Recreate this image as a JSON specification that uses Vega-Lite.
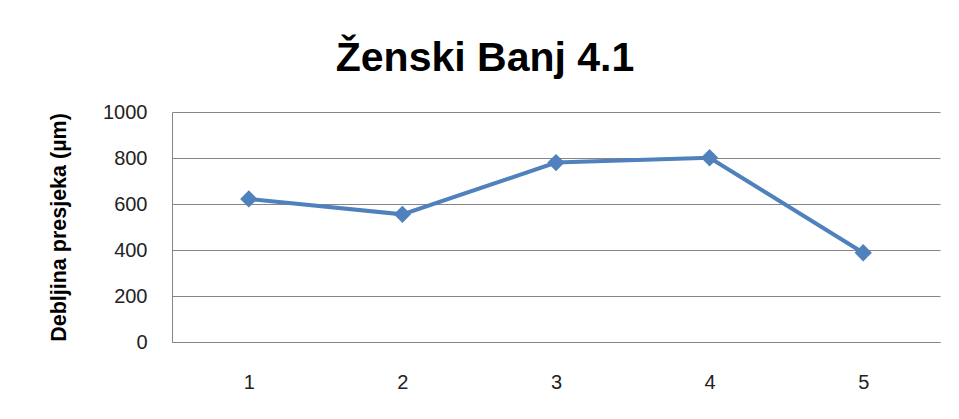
{
  "$schema": "https://vega.github.io/schema/vega-lite/v6.json",
  "width": 768,
  "height": 230,
  "autosize": {"type": "none"},
  "padding": {"left": 172, "top": 112, "right": 19, "bottom": 77},
  "background": "white",
  "title": {
    "text": "Ženski Banj 4.1",
    "font": "Liberation Sans",
    "fontSize": 41,
    "fontWeight": "bold",
    "color": "#000000",
    "anchor": "middle",
    "frame": "group",
    "dx": -71,
    "baseline": "alphabetic",
    "offset": -10
  },
  "data": {
    "values": [
      {"pos": "1", "value": 622},
      {"pos": "2", "value": 555},
      {"pos": "3", "value": 780},
      {"pos": "4", "value": 801},
      {"pos": "5", "value": 388}
    ]
  },
  "encoding": {
    "x": {
      "field": "pos",
      "type": "ordinal",
      "scale": {"type": "point", "padding": 0.5},
      "axis": {
        "title": null,
        "labelAngle": 0,
        "labelFont": "Liberation Sans",
        "labelFontSize": 20,
        "labelColor": "#222222",
        "labelPadding": 30,
        "ticks": false,
        "domain": true,
        "domainColor": "#868686",
        "domainWidth": 1,
        "grid": false
      }
    },
    "y": {
      "field": "value",
      "type": "quantitative",
      "scale": {"domain": [0, 1000], "nice": false},
      "axis": {
        "title": "Debljina presjeka (µm)",
        "titleFont": "Liberation Sans",
        "titleFontSize": 21.5,
        "titleFontWeight": "bold",
        "titleColor": "#000000",
        "titlePadding": 32,
        "values": [0, 200, 400, 600, 800, 1000],
        "format": "d",
        "labelFont": "Liberation Sans",
        "labelFontSize": 20,
        "labelColor": "#222222",
        "labelPadding": 25,
        "ticks": false,
        "domain": true,
        "domainColor": "#868686",
        "domainWidth": 1,
        "grid": true,
        "gridColor": "#868686",
        "gridWidth": 1
      }
    }
  },
  "layer": [
    {
      "mark": {"type": "line", "color": "#4F81BD", "strokeWidth": 4}
    },
    {
      "mark": {"type": "point", "shape": "diamond", "filled": true, "color": "#4F81BD", "size": 300, "opacity": 1}
    }
  ],
  "config": {"view": {"stroke": null}}
}
